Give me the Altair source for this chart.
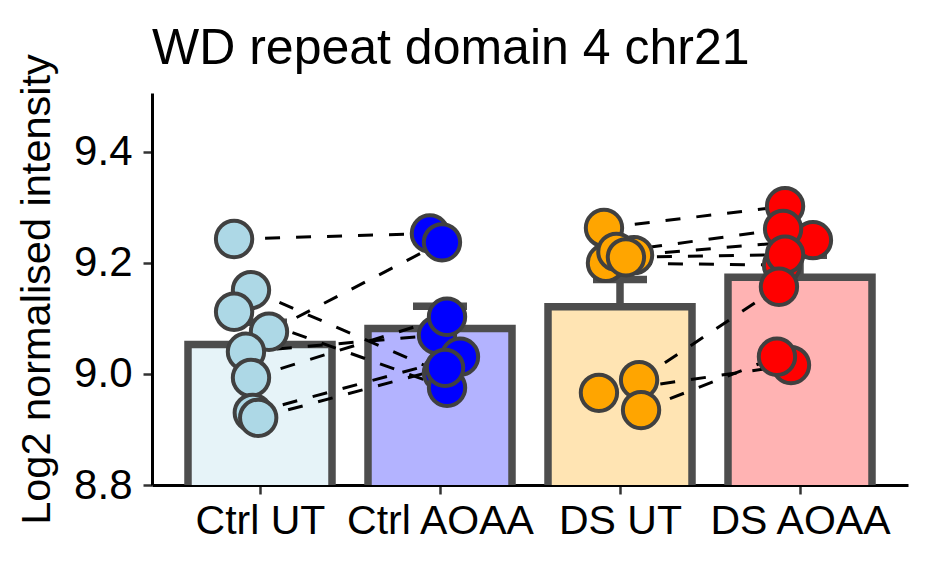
import altair as alt
import pandas as pd

# ---- data ----
groups = ["Ctrl UT", "Ctrl AOAA", "DS UT", "DS AOAA"]
point_colors = ["#ADD8E6", "#0000FF", "#FFA500", "#FF0000"]
bar_fills = ["#E6F3F8", "#B3B3FF", "#FFE4B3", "#FFB3B3"]
bar_means = [9.053, 9.082, 9.121, 9.174]
bar_sems = [0.040, 0.040, 0.049, 0.040]

# paired samples: i-th value of UT is paired with i-th value of AOAA
ctrl_ut_vals = [9.243, 9.076, 9.151, 9.112, 9.040, 8.993, 8.930, 8.921]
ctrl_ut_jit = [-0.144, 0.050, -0.050, -0.144, -0.078, -0.050, -0.040, -0.010]
ctrl_aoaa_vals = [9.253, 9.237, 9.002, 8.975, 9.070, 9.103, 9.031, 9.011]
ctrl_aoaa_jit = [-0.056, 0.011, 0.011, 0.039, -0.017, 0.039, 0.111, 0.028]
ds_ut_vals = [9.263, 9.214, 9.200, 9.220, 9.210, 8.989, 8.966, 8.935]
ds_ut_jit = [-0.089, 0.078, -0.078, -0.020, 0.033, 0.106, -0.117, 0.117]
ds_aoaa_vals = [9.302, 9.241, 9.196, 9.261, 9.215, 9.157, 9.016, 9.031]
ds_aoaa_jit = [-0.083, 0.072, -0.100, -0.094, -0.083, -0.117, -0.050, -0.128]

y_ticks = [8.8, 9.0, 9.2, 9.4]

# ---- tables ----
bars = pd.DataFrame({
    "group": groups,
    "pos": [1, 2, 3, 4],
    "mean": bar_means,
    "sem": bar_sems,
    "fill": bar_fills,
})

rows = []
series = [
    ("Ctrl UT", 1, "Ctrl", ctrl_ut_vals, ctrl_ut_jit),
    ("Ctrl AOAA", 2, "Ctrl", ctrl_aoaa_vals, ctrl_aoaa_jit),
    ("DS UT", 3, "DS", ds_ut_vals, ds_ut_jit),
    ("DS AOAA", 4, "DS", ds_aoaa_vals, ds_aoaa_jit),
]
for g, p, cond, vals, jits in series:
    for i, (v, j) in enumerate(zip(vals, jits)):
        rows.append({"group": g, "pos": p, "pair": f"{cond}-{i}",
                     "value": v, "jitter": j})
points = pd.DataFrame(rows)

FONT = "Liberation Sans"
ydom = [8.8, 9.506]
xdom = [0.4, 4.6]

label_expr = "[" + ",".join(f"'{g}'" for g in groups) + "][datum.value - 1]"

x_axis = alt.Axis(values=[1, 2, 3, 4], labelExpr=label_expr, title=None,
                  grid=False, labelFontSize=41, labelFont=FONT,
                  labelColor="black", tickSize=9, tickWidth=2.5,
                  tickColor="#333333", domainColor="black", domainWidth=3,
                  labelPadding=7, labelOverlap=False, labelFlush=False,
                  labelLimit=500)
y_axis = alt.Axis(values=y_ticks, format=".1f", title="Log2 normalised intensity",
                  grid=False, labelFontSize=42, labelFont=FONT,
                  labelColor="black", tickSize=9, tickWidth=2.5,
                  tickColor="#333333", domainColor="black", domainWidth=3,
                  labelPadding=11, titleFontSize=41.5, titleFont=FONT,
                  titleFontWeight="normal", titleColor="black",
                  titlePadding=15, labelFlush=False, labelLimit=500)

xs = alt.Scale(domain=xdom, nice=False, zero=False)
ys = alt.Scale(domain=ydom, nice=False, zero=False)

base_bar = alt.Chart(bars)

err_v = base_bar.mark_rule(color="#4D4D4D", strokeWidth=7.5).transform_calculate(
    lo="datum.mean - datum.sem", hi="datum.mean + datum.sem"
).encode(
    x=alt.X("pos:Q", scale=xs, axis=x_axis),
    y=alt.Y("lo:Q", scale=ys, axis=y_axis),
    y2="hi:Q",
)
err_cap = base_bar.mark_rule(color="#4D4D4D", strokeWidth=7.5).transform_calculate(
    xl="datum.pos - 0.15", xr="datum.pos + 0.15", hi="datum.mean + datum.sem"
).encode(
    x=alt.X("xl:Q", scale=xs),
    x2="xr:Q",
    y=alt.Y("hi:Q", scale=ys),
)

bar_layer = base_bar.mark_bar(stroke="#4D4D4D", strokeWidth=7.5, clip=True).transform_calculate(
    xl="datum.pos - 0.4", xr="datum.pos + 0.4"
).encode(
    x=alt.X("xl:Q", scale=xs),
    x2="xr:Q",
    y=alt.Y("mean:Q", scale=ys),
    y2=alt.datum(8.7),
    fill=alt.Fill("fill:N", scale=None),
)

pts_base = alt.Chart(points).transform_calculate(xp="datum.pos + datum.jitter")

lines = pts_base.mark_line(color="black", strokeWidth=3, strokeDash=[15, 16]).encode(
    x=alt.X("xp:Q", scale=xs),
    y=alt.Y("value:Q", scale=ys),
    detail="pair:N",
    order="pos:Q",
)

dots = pts_base.mark_point(filled=True, shape="circle", size=1320, opacity=1,
                           stroke="#404040", strokeWidth=4).encode(
    x=alt.X("xp:Q", scale=xs),
    y=alt.Y("value:Q", scale=ys),
    fill=alt.Fill("group:N", scale=alt.Scale(domain=groups, range=point_colors),
                  legend=None),
)

chart = alt.layer(err_v, err_cap, bar_layer, lines, dots).properties(
    width=756,
    height=392,
    background="white",
    autosize=alt.AutoSizeParams(type="none"),
    padding={"left": 144, "top": 85, "right": 10, "bottom": 60},
    title=alt.TitleParams("WD repeat domain 4 chr21", anchor="start",
                          frame="group",
                          fontSize=50, font=FONT, fontWeight="normal",
                          color="black", offset=-20),
).configure_view(strokeWidth=0, stroke="transparent")

chart.save("out.html", embed_options={"renderer": "svg", "actions": False})
